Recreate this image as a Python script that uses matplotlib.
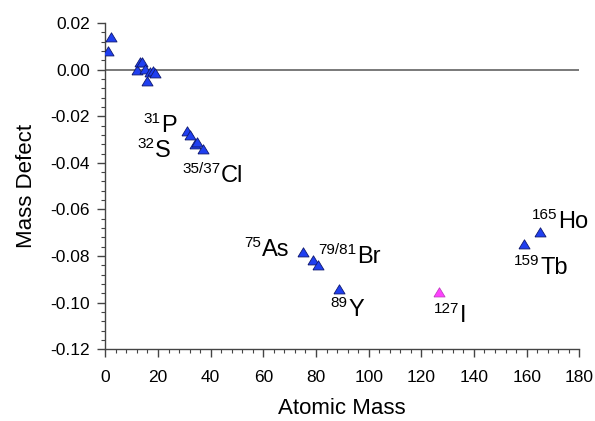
import matplotlib
matplotlib.use("Agg")
import matplotlib.pyplot as plt
from matplotlib.ticker import MultipleLocator, FormatStrFormatter
from matplotlib.transforms import offset_copy

plt.rcParams['font.family'] = ['Liberation Sans', 'DejaVu Sans']

# ---- data ----
mass = [1.008, 2.014, 12.0, 13.003, 14.003, 15.000, 15.995, 16.999, 17.999, 18.998,
        30.974, 31.972, 33.968, 34.969, 36.966,
        74.922, 78.918, 80.916, 88.906, 158.925, 164.930]
defect = [0.0078, 0.0141, 0.0, 0.0034, 0.0031, 0.0001, -0.0051, -0.0009, -0.0008, -0.0016,
          -0.0262, -0.0279, -0.0321, -0.0311, -0.0341,
          -0.0784, -0.0817, -0.0837, -0.0941, -0.0747, -0.0697]
iodine_mass = [126.904]
iodine_defect = [-0.0955]

label_iso = ['31', '32', '35/37', '75', '79/81', '89', '127', '165', '159']
label_elem = ['P', 'S', 'Cl', 'As', 'Br', 'Y', 'I', 'Ho', 'Tb']
label_pos = [(21.2, -0.0268), (18.9, -0.0375), (43.9, -0.0482), (59.5, -0.0800),
             (95.6, -0.0830), (92.2, -0.1057), (134.7, -0.1083), (171.9, -0.0680),
             (165.1, -0.0877)]

xticks = [0, 20, 40, 60, 80, 100, 120, 140, 160, 180]
yticks = [0.02, 0.00, -0.02, -0.04, -0.06, -0.08, -0.10, -0.12]

# ---- figure ----
fig = plt.figure(figsize=(5.95, 4.21), dpi=100)
ax = fig.add_axes([0.177, 0.1703, 0.9736 - 0.177, 0.9454 - 0.1703])

tri = [(-1, -0.8), (1, -0.8), (0, 0.85), (-1, -0.8)]
ax.axhline(0, color='#555555', lw=1.1, zorder=1)
ax.plot(mass, defect, linestyle='none', marker=tri, ms=8,
        mfc='#1f3ff0', mec='#101a70', mew=0.6, zorder=3)
ax.plot(iodine_mass, iodine_defect, linestyle='none', marker=tri, ms=8,
        mfc='#ff40ff', mec='#c040c0', mew=0.6, zorder=3)

ax.set_xlim(0, 180)
ax.set_ylim(-0.12, 0.02)
ax.set_xticks(xticks)
ax.set_yticks(yticks)
ax.yaxis.set_major_formatter(FormatStrFormatter('%.2f'))
ax.xaxis.set_minor_locator(MultipleLocator(4))
ax.yaxis.set_minor_locator(MultipleLocator(0.004))

for s in ['top', 'right']:
    ax.spines[s].set_visible(False)
for s in ['left', 'bottom']:
    ax.spines[s].set_color('#444444')
    ax.spines[s].set_linewidth(1.0)

ax.tick_params(which='major', direction='out', length=6, width=1.0, color='#444444',
               labelsize=12.5, pad=5)
ax.tick_params(which='minor', direction='out', length=3, width=0.8, color='#444444')
ax.tick_params(axis='x', which='major', pad=9)

ax.set_xlabel('Atomic Mass', fontsize=16, labelpad=9)
ax.set_ylabel('Mass Defect', fontsize=16, labelpad=10)

for iso, el, (lx, ly) in zip(label_iso, label_elem, label_pos):
    ax.text(lx, ly, el, fontsize=17, ha='left', va='baseline', zorder=4)
    tr = offset_copy(ax.transData, fig=fig, x=-0.5, y=6.5, units='points')
    ax.text(lx, ly, iso, fontsize=11, ha='right', va='baseline', transform=tr, zorder=4)

fig.savefig('out.png', dpi=100)
